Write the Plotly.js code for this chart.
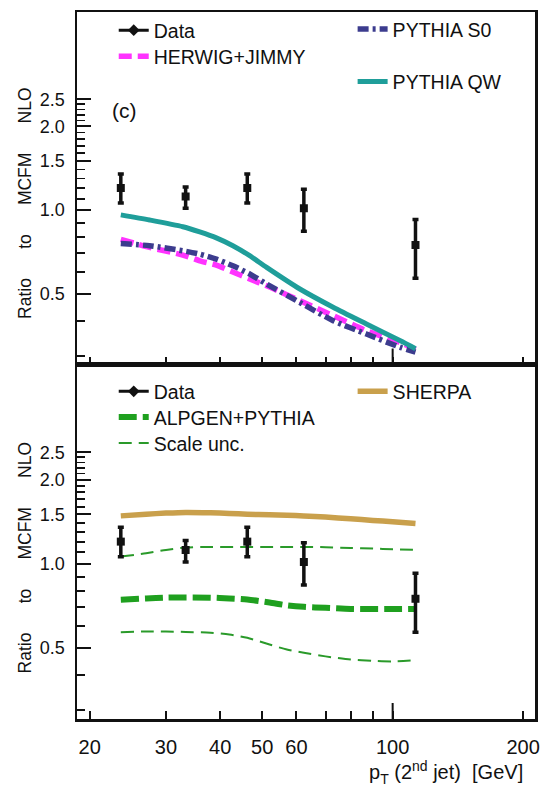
<!DOCTYPE html>
<html>
<head>
<meta charset="utf-8">
<script src="https://cdn.plot.ly/plotly-3.0.1.min.js"></script>
<style>html,body{margin:0;padding:0;background:#fff;}#plot{width:549px;height:793px;}</style>
</head>
<body>
<div id="plot"></div>
<script>
// ---- data ----
const xData = [23.6, 33.3, 46.2, 62.4, 112.9];
const yData = [1.20, 1.12, 1.20, 1.015, 0.75];
const yDataUp = [1.35, 1.21, 1.35, 1.19, 0.925];
const yDataLow = [1.06, 1.015, 1.06, 0.84, 0.57];

// top panel curves
const xTop = [23.6, 27.5, 32.8, 35.9, 39.2, 42.8, 46.8, 51.2, 61.1, 72.9, 87, 103.9, 112.9];
const pythiaQW = [0.962, 0.922, 0.872, 0.835, 0.795, 0.745, 0.686, 0.623, 0.521, 0.448, 0.39, 0.34, 0.318];
const herwig = [0.785, 0.735, 0.69, 0.658, 0.635, 0.60, 0.566, 0.535, 0.473, 0.418, 0.369, 0.335, 0.316];
const pythiaS0 = [0.759, 0.745, 0.715, 0.695, 0.667, 0.631, 0.59, 0.543, 0.466, 0.401, 0.359, 0.322, 0.309];

// bottom panel curves
const xBottom = [23.6, 27, 30, 33.3, 38, 42, 46.2, 52, 57, 62.4, 70, 80, 90, 100, 112.9];
const sherpa = [1.483, 1.504, 1.517, 1.526, 1.521, 1.513, 1.504, 1.496, 1.492, 1.483, 1.468, 1.448, 1.428, 1.413, 1.393];
const alpgen = [0.744, 0.752, 0.757, 0.758, 0.757, 0.752, 0.745, 0.727, 0.711, 0.702, 0.696, 0.69, 0.689, 0.689, 0.69];
const scaleUp = [1.061, 1.09, 1.121, 1.143, 1.149, 1.149, 1.149, 1.149, 1.149, 1.149, 1.146, 1.139, 1.133, 1.127, 1.121];
const scaleLow = [0.57, 0.573, 0.573, 0.571, 0.567, 0.559, 0.544, 0.515, 0.494, 0.481, 0.467, 0.455, 0.45, 0.448, 0.452];

const xTickVals = [20, 30, 40, 50, 60, 70, 80, 90, 100, 200];
const xTickText = ['20', '30', '40', '50', '60', '', '', '', '100', '200'];
const yTickVals = [0.5, 1.0, 1.5, 2.0, 2.5];
const yTickText = ['0.5', '1.0', '1.5', '2.0', '2.5'];
const yMinorVals = [0.3, 0.4, 0.6, 0.7, 0.8, 0.9, 1.1, 1.2, 1.3, 1.4, 1.6, 1.7, 1.8, 1.9, 2.1, 2.2, 2.3, 2.4];

// ---- styling ----
const FONT = 'Liberation Sans, Arial, Helvetica, sans-serif';
const INK = '#111';
const errUp = yDataUp.map((v, i) => v - yData[i]);
const errLow = yData.map((v, i) => v - yDataLow[i]);

function dataTrace(xa, ya) {
  return {
    x: xData, y: yData, xaxis: xa, yaxis: ya, type: 'scatter', mode: 'markers',
    showlegend: false,
    marker: {symbol: 'square', size: 8, color: INK},
    error_y: {type: 'data', symmetric: false, array: errUp, arrayminus: errLow,
              color: INK, thickness: 3.5, width: 3}
  };
}
function dataLegend(lg) {
  return {x: [null], y: [null], type: 'scatter', mode: 'lines+markers', name: 'Data',
          legend: lg, line: {color: INK, width: 3},
          marker: {symbol: 'diamond', size: 9, color: INK}};
}
function curve(xs, y, xa, ya, name, color, width, dash, lg, show) {
  return {x: xs, y: y, xaxis: xa, yaxis: ya, type: 'scatter', mode: 'lines',
          name: name, legend: lg, showlegend: show,
          line: {color: color, width: width, dash: dash, shape: 'spline', smoothing: 0.7}};
}

const traces = [
  // top panel
  curve(xTop, herwig, 'x2', 'y2', 'HERWIG+JIMMY', '#ff33ff', 5.5, '13px,6px', 'legend2', true),
  curve(xTop, pythiaS0, 'x2', 'y2', 'PYTHIA S0', '#3c3c8e', 5.5, '11px,4px,3px,4px', 'legend3', true),
  curve(xTop, pythiaQW, 'x2', 'y2', 'PYTHIA QW', '#1f9e9a', 5, 'solid', 'legend4', true),
  dataTrace('x2', 'y2'),
  dataLegend('legend'),
  // bottom panel
  curve(xBottom, sherpa, 'x', 'y', 'SHERPA', '#c9a04c', 5.5, 'solid', 'legend8', true),
  curve(xBottom, scaleUp, 'x', 'y', 'Scale unc.', '#2a9a2a', 2, '13px,7px', 'legend7', true),
  curve(xBottom, scaleLow, 'x', 'y', 'Scale unc.', '#2a9a2a', 2, '13px,7px', 'legend7', false),
  curve(xBottom, alpgen, 'x', 'y', 'ALPGEN+PYTHIA', '#1fa01f', 6, '18px,6px', 'legend6', true),
  dataTrace('x', 'y'),
  dataLegend('legend5')
];

const xRange = [Math.log10(18.7), Math.log10(213)];
const yRange = [Math.log10(0.279), Math.log10(5.15)];
const split = 0.5014;

function xAxis(showLabels, anchor) {
  return {
    type: 'log', range: xRange, anchor: anchor,
    showline: true, mirror: true, linecolor: INK, linewidth: 2.5,
    ticks: 'inside', ticklen: 8, tickwidth: 2, tickcolor: INK,
    tickmode: 'array', tickvals: xTickVals, ticktext: xTickText,
    showticklabels: showLabels, ticklabelstandoff: 8,
    tickfont: {family: FONT, size: 20, color: INK},
    showgrid: false, zeroline: false
  };
}
function yAxis(domain, anchor) {
  return {
    type: 'log', range: yRange, domain: domain, anchor: anchor,
    showline: true, mirror: true, linecolor: INK, linewidth: 2.5,
    ticks: 'inside', ticklen: 14, tickwidth: 2, tickcolor: INK,
    tickmode: 'array', tickvals: yTickVals, ticktext: yTickText,
    ticklabelstandoff: 6,
    tickfont: {family: FONT, size: 18, color: INK},
    minor: {tickmode: 'array', tickvals: yMinorVals, ticks: 'inside', ticklen: 8, tickwidth: 1.8, tickcolor: INK},
    showgrid: false, zeroline: false
  };
}

function lg(x, y) {
  return {x: x, y: y, xanchor: 'left', yanchor: 'middle', bgcolor: 'rgba(0,0,0,0)',
          borderwidth: 0, font: {family: FONT, size: 19.5, color: INK}, itemwidth: 30};
}

const GAP = '\u00a0\u00a0\u00a0\u00a0\u00a0 ';
const yTitle = 'Ratio' + GAP + 'to' + GAP + 'MCFM' + GAP + 'NLO';

const layout = {
  width: 549, height: 793,
  margin: {l: 77, r: 14, t: 11, b: 74},
  paper_bgcolor: '#fff', plot_bgcolor: '#fff',
  font: {family: FONT, color: INK},
  xaxis: xAxis(true, 'y'),
  xaxis2: xAxis(false, 'y2'),
  yaxis: yAxis([0, split], 'x'),
  yaxis2: yAxis([split, 1], 'x2'),
  legend: lg(0.0802, 0.9725),
  legend2: lg(0.0802, 0.9355),
  legend3: lg(0.6018, 0.9742),
  legend4: lg(0.6018, 0.9001),
  legend5: lg(0.0802, 0.4623),
  legend6: lg(0.0802, 0.4261),
  legend7: lg(0.0802, 0.3894),
  legend8: lg(0.6018, 0.4623),
  shapes: [
    {type: 'line', xref: 'x', yref: 'y domain', x0: 100, x1: 100, ysizemode: 'pixel', yanchor: 0, y0: 0, y1: 16, line: {color: INK, width: 2}},
    {type: 'line', xref: 'x2', yref: 'y2 domain', x0: 100, x1: 100, ysizemode: 'pixel', yanchor: 0, y0: 0, y1: 16, line: {color: INK, width: 2}}
  ],
  annotations: [
    {text: '(c)', xref: 'paper', yref: 'paper', x: 0.1042, y: 0.8602, xanchor: 'center', yanchor: 'middle', showarrow: false, font: {family: FONT, size: 21, color: INK}},
    {text: yTitle, xref: 'paper', yref: 'paper', x: -0.1132, y: 0.7288, textangle: -90, xanchor: 'center', yanchor: 'middle', showarrow: false, font: {family: FONT, size: 17.5, color: INK}},
    {text: yTitle, xref: 'paper', yref: 'paper', x: -0.1132, y: 0.2274, textangle: -90, xanchor: 'center', yanchor: 'middle', showarrow: false, font: {family: FONT, size: 17.5, color: INK}},
    {text: 'p<sub>T</sub> (2<sup>nd</sup> jet)\u00a0\u00a0[GeV]', xref: 'paper', yref: 'paper', x: 0.978, y: -0.0763, xanchor: 'right', yanchor: 'middle', showarrow: false, font: {family: FONT, size: 20, color: INK}}
  ]
};

Plotly.newPlot('plot', traces, layout, {staticPlot: true, displayModeBar: false});
</script>
</body>
</html>
